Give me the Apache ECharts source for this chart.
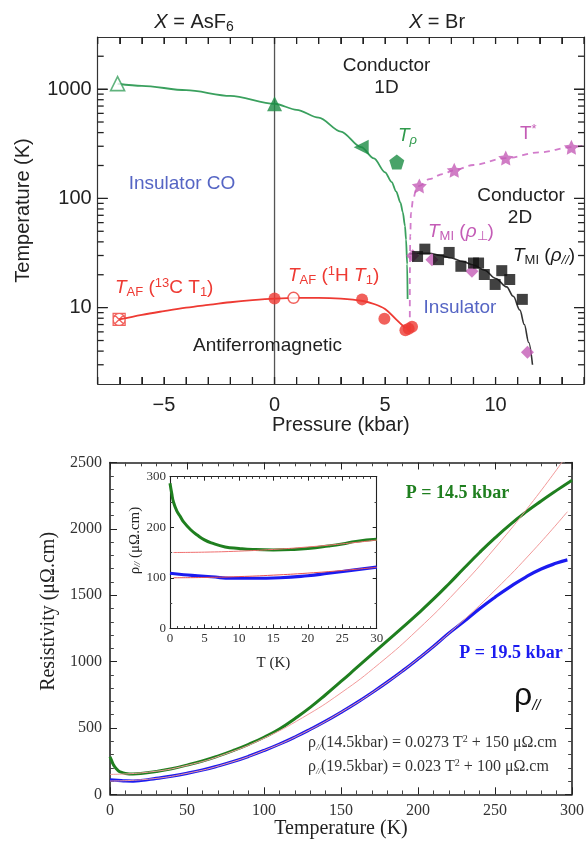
<!DOCTYPE html>
<html><head><meta charset="utf-8">
<script src="https://cdn.jsdelivr.net/npm/echarts@6/dist/echarts.min.js"></script>
<style>html,body{margin:0;padding:0;background:#fff}#c{width:587px;height:841px}</style>
</head><body><div id="c"></div>
<script>
// ================= Phase diagram (top) =================
const pressureMin = -8, pressureMax = 14, tempMin = 2, tempMax = 3000;
const pressureLabels = [-5, 0, 5, 10];
const pressureTicks = [-8,-7,-6,-5,-4,-3,-2,-1,0,1,2,3,4,5,6,7,8,9,10,11,12,13,14];
const tempLabels = [10, 100, 1000];
const tempMinorTicks = [3,4,5,6,7,8,9,20,30,40,50,60,70,80,90,200,300,400,500,600,700,800,900,2000];

const zeroLineP = [0, 0];
const zeroLineT = [2, 3000];

const tRhoP = [-7.1, -6, -4, -2, 0, 1, 2, 3, 3.92, 4.5, 5, 5.3, 5.5, 5.7, 5.8, 5.9, 5.95, 6.0, 6.02];
const tRhoT = [1120, 1072, 978, 868, 735, 647, 548, 409, 294, 232, 173, 141, 116, 91, 75, 56, 42, 25, 12];
const tAfP = [-7.03, -6, -5, -4, -3, -2, -1, 0, 1, 2, 3, 4, 4.5, 5, 5.5, 5.92];
const tAfT = [7.8, 8.6, 9.3, 10, 10.6, 11.2, 11.7, 12.1, 12.3, 12.3, 12.1, 11.5, 10.8, 9.7, 7.8, 6.5];
const tMiP = [6.1, 6.5, 7, 7.5, 8, 8.5, 9, 9.5, 10, 10.5, 10.8, 11.1, 11.3, 11.5, 11.67];
const tMiT = [31, 31.5, 31.5, 30, 28.5, 26.5, 24.5, 22, 18.5, 15.5, 12.7, 9.5, 7, 4.8, 3.0];
const tStarP = [6.12, 6.12, 6.14, 6.17, 6.27, 6.4, 6.55, 7, 7.6, 8.13, 9, 10.46, 12, 13.43, 14];
const tStarT = [6.5, 20, 45, 73, 98, 119, 130, 150, 167, 181, 202, 234, 264, 294, 305];

const openTriP = [-7.1], openTriT = [1124];
const filledTriP = [0], filledTriT = [735];
const leftTriP = [3.92], leftTriT = [294];
const pentP = [5.53], pentT = [215];
const crossP = [-7.03], crossT = [7.8];
const redDotP = [0, 3.96, 4.97, 5.92, 6.07, 6.22];
const redDotT = [12.1, 11.9, 7.9, 6.2, 6.4, 6.7];
const redOpenP = [0.86], redOpenT = [12.3];
const starP = [6.55, 8.13, 10.46, 13.43];
const starT = [130, 181, 234, 294];
const diamP = [6.25, 7.12, 8.93, 11.44];
const diamT = [29.9, 27.5, 21.5, 3.9];
const sqP = [6.47, 6.8, 7.42, 7.9, 8.43, 9.0, 9.23, 9.49, 9.98, 10.28, 10.64, 11.21];
const sqT = [29.4, 34.3, 27.5, 32, 23.9, 25.6, 25.6, 20.1, 16.3, 21.8, 18.1, 11.9];

// ================= Resistivity (bottom) =================
const mainGreenT = [0,1,2,3,5,7,10,15,20,30,40,50,60,70,80,90,100,110,120,130,140,150,160,170,180,190,200,210,220,230,240,250,260,270,280,290,300];
const mainGreen  = [283,255,228,208,182,167,157,153,156,172,193,220,251,288,330,377,430,492,570,655,750,850,952,1054,1156,1258,1362,1470,1585,1705,1822,1932,2034,2126,2210,2290,2367];
const mainBlueT = [0,5,10,15,20,30,40,50,60,70,80,90,100,110,120,130,140,150,160,170,180,190,200,210,220,230,240,250,260,270,280,290,297];
const mainBlue  = [108,105,101,100,104,120,137,158,183,213,247,286,330,378,431,489,551,618,689,765,845,930,1020,1114,1213,1303,1398,1485,1565,1637,1697,1742,1766];
const fitGreenT = [0,25,50,75,100,125,150,175,200,225,250,275,295];
const fitGreen  = [150,167,218,304,423,577,764,986,1242,1532,1856,2214,2526];
const fitBlueT  = [0,25,50,75,100,125,150,175,200,225,250,275,297];
const fitBlue   = [100,114,158,229,330,459,618,804,1020,1264,1538,1839,2129];

const insetGreenT = [0,0.25,0.5,1,1.5,2,3,4,5,6,8,10,12,15,18,20,23,25,27,30];
const insetGreen  = [287,267,250,232,221,210,195,184,175,169,161,158,156,155,156,158,163,167,172,176];
const insetBlueT  = [0,2,4,6,9,12,16,20,23,26,30];
const insetBlue   = [109,106,104,102,99,99,100,104,109,114,121];
const insetFitT   = [0.5,5,10,15,20,25,30];
const insetFitGreen = [150,150.7,152.7,156.1,160.9,167.1,174.6];
const insetFitBlue  = [100,100.6,102.3,105.2,109.2,114.4,120.7];

// ================= chart =================
const pairs = (xs, ys) => xs.map((x, i) => [x, ys[i]]);
const SANS = '"Liberation Sans", Arial, sans-serif';
const SERIF = '"Liberation Serif", "Times New Roman", serif';
const TOPC = '#333';
const TICKC = '#222';
const GREEN_L = '#3aa05e', GREEN_M = '#1c8c44', RED = '#ee3a33', MAG = '#c45cb6', MAG_L = '#d27ccb', BLUE_T = '#5565c4';
const DG = '#1f7f1f', DB = '#1b1bf0', FIT = '#f29a9a';

const starPath = 'path://M0,-10L2.94,-4.05L9.51,-3.09L4.76,1.55L5.88,8.09L0,5L-5.88,8.09L-4.76,1.55L-9.51,-3.09L-2.94,-4.05Z';
const pentPath = 'path://M0,-10L9.51,-3.09L5.88,8.09L-5.88,8.09L-9.51,-3.09Z';
const crossPath = 'path://M10,0A10,10,0,1,1,-10,0A10,10,0,1,1,10,0ZM-7.07,-7.07L7.07,7.07M7.07,-7.07L-7.07,7.07M-10,-10L10,-10L10,10L-10,10Z';

function richSet(color, fam) {
  fam = fam || SANS;
  return {
    n: {fontFamily: fam, fontSize: 19, lineHeight: 22, fill: color},
    i: {fontFamily: fam, fontSize: 19, lineHeight: 22, fontStyle: 'italic', fill: color},
    sub: {fontFamily: fam, fontSize: 13, lineHeight: 11, verticalAlign: 'bottom', fill: color},
    subi: {fontFamily: fam, fontSize: 13, lineHeight: 11, verticalAlign: 'bottom', fontStyle: 'italic', fill: color},
    sup: {fontFamily: fam, fontSize: 13, lineHeight: 11, verticalAlign: 'top', fill: color}
  };
}
function txt(x, y, text, color, align, rich) {
  return {
    type: 'text', x: x, y: y, z: 100,
    style: {
      text: text, fill: color, font: '19px ' + SANS,
      align: align || 'center', textAlign: align || 'center',
      verticalAlign: 'middle', textVerticalAlign: 'middle',
      rich: rich || richSet(color)
    }
  };
}

const graphics = [
  txt(194, 22, '{i|X}{n| = AsF}{sub|6}', '#222', 'center', {
    n: {fontFamily: SANS, fontSize: 20, lineHeight: 24, fill: '#222'},
    i: {fontFamily: SANS, fontSize: 20, lineHeight: 24, fontStyle: 'italic', fill: '#222'},
    sub: {fontFamily: SANS, fontSize: 14, lineHeight: 12, verticalAlign: 'bottom', fill: '#222'}}),
  txt(437, 22, '{i|X}{n| = Br}', '#222', 'center', {
    n: {fontFamily: SANS, fontSize: 20, lineHeight: 24, fill: '#222'},
    i: {fontFamily: SANS, fontSize: 20, lineHeight: 24, fontStyle: 'italic', fill: '#222'}}),
  txt(386.5, 66, '{n|Conductor}', '#222'),
  txt(386.5, 88, '{n|1D}', '#222'),
  txt(182, 184, '{n|Insulator CO}', BLUE_T),
  txt(398, 136, '{i|T}{subi|ρ}', '#2f9a4c', 'left'),
  txt(520, 134, '{n|T}{sup|*}', MAG, 'left'),
  txt(521, 196, '{n|Conductor}', '#222'),
  txt(520, 218, '{n|2D}', '#222'),
  txt(428, 232, '{i|T}{sub|MI}{n| (}{i|ρ}{sub|⊥}{n|)}', MAG, 'left'),
  txt(513, 256, '{i|T}{sub|MI}{n| (}{i|ρ}{subi|//}{n|)}', '#1a1a1a', 'left'),
  txt(460, 308, '{n|Insulator}', BLUE_T),
  txt(115, 288, '{i|T}{sub|AF}{n| (}{sup|13}{n|C T}{sub|1}{n|)}', RED, 'left'),
  txt(288, 276, '{i|T}{sub|AF}{n| (}{sup|1}{n|H }{i|T}{sub|1}{n|)}', RED, 'left'),
  txt(267.5, 346, '{n|Antiferromagnetic}', '#222'),
  txt(457.5, 493, '{b|P = 14.5 kbar}', DG, 'center', {b: {fontFamily: SERIF, fontSize: 18, fontWeight: 'bold', fill: DG, lineHeight: 22}}),
  txt(511, 653, '{b|P = 19.5 kbar}', DB, 'center', {b: {fontFamily: SERIF, fontSize: 18, fontWeight: 'bold', fill: DB, lineHeight: 22}}),
  txt(514, 696, '{r|ρ}{s|//}', '#111', 'left', {
    r: {fontFamily: SANS, fontSize: 32, lineHeight: 34, fill: '#111'},
    s: {fontFamily: SANS, fontSize: 15, lineHeight: 14, verticalAlign: 'bottom', fontStyle: 'italic', fill: '#111'}}),
  txt(308, 743, '{a|ρ}{s|//}{a|(14.5kbar) = 0.0273 T}{p|2}{a| + 150 μΩ.cm}', '#333', 'left', {
    a: {fontFamily: SERIF, fontSize: 16, lineHeight: 18, fill: '#333'},
    s: {fontFamily: SERIF, fontSize: 9, lineHeight: 9, verticalAlign: 'bottom', fontStyle: 'italic', fill: '#333'},
    p: {fontFamily: SERIF, fontSize: 10, lineHeight: 9, verticalAlign: 'top', fill: '#333'}}),
  txt(308, 767, '{a|ρ}{s|//}{a|(19.5kbar) = 0.023 T}{p|2}{a| + 100 μΩ.cm}', '#333', 'left', {
    a: {fontFamily: SERIF, fontSize: 16, lineHeight: 18, fill: '#333'},
    s: {fontFamily: SERIF, fontSize: 9, lineHeight: 9, verticalAlign: 'bottom', fontStyle: 'italic', fill: '#333'},
    p: {fontFamily: SERIF, fontSize: 10, lineHeight: 9, verticalAlign: 'top', fill: '#333'}})
];

function pAxisFrame(pos, showLabel) {
  return {
    type: 'value', gridIndex: 0, position: pos, min: pressureMin, max: pressureMax, interval: 1,
    axisLine: {show: true, onZero: false, lineStyle: {color: TOPC, width: 1.2}},
    splitLine: {show: false},
    axisTick: {show: true, inside: true, length: 7, lineStyle: {color: TICKC, width: 1}},
    axisLabel: showLabel ? {show: true, fontFamily: SANS, fontSize: 20, color: '#222', margin: 11,
      formatter: v => pressureLabels.includes(v) ? (v < 0 ? '\u2212' + (-v) : String(v)) : ''} : {show: false},
    name: showLabel ? 'Pressure (kbar)' : '', nameLocation: 'middle', nameGap: 31,
    nameTextStyle: {fontFamily: SANS, fontSize: 20, color: '#222'}
  };
}
function logFrame(pos, showLabel) {
  return {
    type: 'log', gridIndex: 0, position: pos, min: tempMin, max: tempMax,
    axisLine: {show: true, onZero: false, lineStyle: {color: TOPC, width: 1.2}},
    splitLine: {show: false},
    axisTick: {show: true, inside: true, length: 10, customValues: tempLabels, lineStyle: {color: TICKC, width: 1}},
    axisLabel: showLabel ? {show: true, customValues: tempLabels, formatter: v => String(Math.round(v)),
      fontFamily: SANS, fontSize: 20, color: '#222', margin: 6} : {show: false},
    name: showLabel ? 'Temperature (K)' : '', nameLocation: 'middle', nameGap: 64,
    nameTextStyle: {fontFamily: SANS, fontSize: 20, color: '#222'}
  };
}
function linAxis(grid, pos, min, max, interval, minorSplit, showLabel, name, fs, nameGap, namePad, tickLen, z) {
  const a = {
    type: 'value', gridIndex: grid, position: pos, min: min, max: max, interval: interval,
    axisLine: {show: true, onZero: false, lineStyle: {color: '#222', width: grid === 1 ? 1.6 : 1.1}},
    splitLine: {show: false},
    axisTick: {show: true, inside: true, length: tickLen, lineStyle: {color: '#222', width: 1}},
    minorTick: {show: true, splitNumber: minorSplit, length: tickLen * 0.55, lineStyle: {color: '#444', width: 1}},
    axisLabel: showLabel ? {show: true, fontFamily: SERIF, fontSize: fs, color: '#333', margin: grid === 1 ? 8 : 4,
      formatter: v => String(v)} : {show: false},
    name: showLabel ? name : '', nameLocation: 'middle', nameGap: nameGap,
    nameTextStyle: {fontFamily: SERIF, fontSize: grid === 1 ? 20 : 15, color: '#222', padding: namePad || 0,
      rich: {a: {fontFamily: SERIF, fontSize: 15, color: '#222'}, s: {fontFamily: SERIF, fontSize: 9, fontStyle: 'italic', verticalAlign: 'bottom', lineHeight: 8, color: '#222'}}}
  };
  if (z != null) a.z = z;
  return a;
}

// tick marks of the phase diagram, placed through the axes' own scales
function xTickSeries(vals, len) {
  return {
    type: 'custom', xAxisIndex: 0, yAxisIndex: 0, silent: true, z: 6, clip: false,
    data: vals.map(v => [v, tempMin]), encode: {x: 0, y: 1},
    renderItem: (params, api) => {
      const v = api.value(0);
      const b = api.coord([v, tempMin]), t = api.coord([v, tempMax]);
      return {type: 'group', children: [
        {type: 'line', shape: {x1: b[0], y1: b[1], x2: b[0], y2: b[1] - len}, style: {stroke: TICKC, lineWidth: 1.3}},
        {type: 'line', shape: {x1: t[0], y1: t[1], x2: t[0], y2: t[1] + len}, style: {stroke: TICKC, lineWidth: 1.3}}
      ]};
    }
  };
}
function yTickSeries(vals, len) {
  return {
    type: 'custom', xAxisIndex: 0, yAxisIndex: 0, silent: true, z: 6, clip: false,
    data: vals.map(v => [pressureMin, v]), encode: {x: 0, y: 1},
    renderItem: (params, api) => {
      const v = api.value(1);
      const l = api.coord([pressureMin, v]), r = api.coord([pressureMax, v]);
      return {type: 'group', children: [
        {type: 'line', shape: {x1: l[0], y1: l[1], x2: l[0] + len, y2: l[1]}, style: {stroke: TICKC, lineWidth: 1.3}},
        {type: 'line', shape: {x1: r[0], y1: r[1], x2: r[0] - len, y2: r[1]}, style: {stroke: TICKC, lineWidth: 1.3}}
      ]};
    }
  };
}

const scatter = (data, symbol, size, color, opts) => Object.assign({
  type: 'scatter', xAxisIndex: 0, yAxisIndex: 0, data: data, symbol: symbol, symbolSize: size,
  itemStyle: {color: color}, z: 5, silent: true
}, opts || {});

const option = {
  animation: false,
  backgroundColor: '#fff',
  graphic: graphics,
  grid: [
    {left: 97.7, top: 37, width: 487.3, height: 347, show: false},
    {left: 110, top: 462.5, width: 466, height: 331.8, show: false},
    {left: 170, top: 476.7, width: 206.7, height: 151.6, show: true, backgroundColor: '#fff', borderColor: '#222', borderWidth: 0, z: 10}
  ],
  xAxis: [
    pAxisFrame('bottom', true),
    pAxisFrame('top', false),
    linAxis(1, 'bottom', 0, 300, 50, 5, true, 'Temperature (K)', 16, 24, 0, 7),
    linAxis(1, 'top', 0, 300, 50, 5, false, '', 16, 0, 0, 7),
    linAxis(2, 'bottom', 0, 30, 5, 5, true, 'T (K)', 13, 27, 0, 4, 12),
    linAxis(2, 'top', 0, 30, 5, 5, false, '', 13, 0, 0, 4, 12)
  ],
  yAxis: [
    logFrame('left', true),
    logFrame('right', false),
    linAxis(1, 'left', 0, 2500, 500, 5, true, 'Resistivity (μΩ.cm)', 16, 43, [0, 0, 0, 34], 7),
    linAxis(1, 'right', 0, 2500, 500, 5, false, '', 16, 0, 0, 7),
    linAxis(2, 'left', 0, 300, 100, 2, true, '{a|ρ}{s|//}{a| (μΩ.cm)}', 13, 26, [0, 0, 0, 24], 4, 12),
    linAxis(2, 'right', 0, 300, 100, 2, false, '', 13, 0, 0, 4, 12)
  ],
  series: [
    xTickSeries(pressureTicks, 7),
    yTickSeries(tempLabels, 10),
    yTickSeries(tempMinorTicks, 6),
    {type: 'line', xAxisIndex: 0, yAxisIndex: 0, data: pairs(zeroLineP, zeroLineT), symbol: 'none',
      lineStyle: {color: '#555', width: 1.3}, silent: true, z: 1},
    {type: 'line', xAxisIndex: 0, yAxisIndex: 0, data: pairs(tRhoP, tRhoT), symbol: 'none', smooth: 0.3, smoothMonotone: 'x',
      lineStyle: {color: GREEN_L, width: 1.8}, silent: true},
    {type: 'line', xAxisIndex: 0, yAxisIndex: 0, data: pairs(tAfP, tAfT), symbol: 'none', smooth: 0.35,
      lineStyle: {color: RED, width: 1.8}, silent: true},
    {type: 'line', xAxisIndex: 0, yAxisIndex: 0, data: pairs(tMiP, tMiT), symbol: 'none', smooth: 0.35, smoothMonotone: 'x',
      lineStyle: {color: '#333', width: 1.6}, silent: true},
    {type: 'line', xAxisIndex: 0, yAxisIndex: 0, data: pairs(tStarP, tStarT), symbol: 'none', smooth: 0.35, smoothMonotone: 'x',
      lineStyle: {color: MAG_L, width: 1.8, type: [6, 5]}, silent: true},
    scatter(pairs(openTriP, openTriT), 'triangle', 14, '#fff', {itemStyle: {color: '#fff', borderColor: GREEN_L, borderWidth: 1.6}}),
    scatter(pairs(filledTriP, filledTriT), 'triangle', 15, GREEN_M),
    scatter(pairs(leftTriP, leftTriT), 'triangle', 15, GREEN_M, {symbolRotate: 90}),
    scatter(pairs(pentP, pentT), pentPath, 15, GREEN_M),
    scatter(pairs(crossP, crossT), crossPath, 12, 'none', {itemStyle: {color: 'rgba(0,0,0,0)', borderColor: RED, borderWidth: 1.3}}),
    scatter(pairs(redDotP, redDotT), 'circle', 12, RED),
    scatter(pairs(redOpenP, redOpenT), 'circle', 11, '#fff', {itemStyle: {color: '#fff', borderColor: RED, borderWidth: 1.5}}),
    scatter(pairs(starP, starT), starPath, 15, MAG),
    scatter(pairs(diamP, diamT), 'diamond', 13, MAG),
    scatter(pairs(sqP, sqT), 'rect', 11, '#111'),
    {type: 'line', xAxisIndex: 2, yAxisIndex: 2, data: pairs(fitGreenT, fitGreen), symbol: 'none', smooth: true,
      lineStyle: {color: FIT, width: 1}, silent: true, z: 3},
    {type: 'line', xAxisIndex: 2, yAxisIndex: 2, data: pairs(fitBlueT, fitBlue), symbol: 'none', smooth: true,
      lineStyle: {color: FIT, width: 1}, silent: true, z: 3},
    {type: 'line', xAxisIndex: 2, yAxisIndex: 2, data: pairs(mainGreenT, mainGreen), symbol: 'none', smooth: true,
      lineStyle: {color: DG, width: 3}, silent: true, z: 2},
    {type: 'line', xAxisIndex: 2, yAxisIndex: 2, data: pairs(mainBlueT, mainBlue), symbol: 'none', smooth: true,
      lineStyle: {color: DB, width: 3.2}, silent: true, z: 2},
    {type: 'line', xAxisIndex: 4, yAxisIndex: 4, data: pairs(insetGreenT, insetGreen), symbol: 'none', smooth: true,
      lineStyle: {color: DG, width: 3}, silent: true, z: 13},
    {type: 'line', xAxisIndex: 4, yAxisIndex: 4, data: pairs(insetBlueT, insetBlue), symbol: 'none', smooth: true,
      lineStyle: {color: DB, width: 3.2}, silent: true, z: 13},
    {type: 'line', xAxisIndex: 4, yAxisIndex: 4, data: pairs(insetFitT, insetFitGreen), symbol: 'none', smooth: true,
      lineStyle: {color: '#f07070', width: 1}, silent: true, z: 14},
    {type: 'line', xAxisIndex: 4, yAxisIndex: 4, data: pairs(insetFitT, insetFitBlue), symbol: 'none', smooth: true,
      lineStyle: {color: '#e85050', width: 1}, silent: true, z: 14}
  ]
};
const chart = echarts.init(document.getElementById('c'));
chart.setOption(option);
</script>
</body></html>
